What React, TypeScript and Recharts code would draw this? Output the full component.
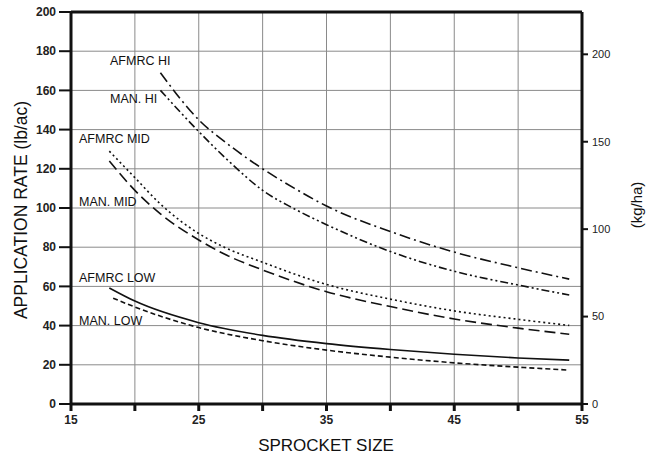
import React from "react";
import {
  LineChart,
  Line,
  XAxis,
  YAxis,
  CartesianGrid,
  ReferenceLine,
} from "recharts";

// sprocket sizes and rates (lb/ac)
const hiSizes = [22, 25, 27.5, 30, 32.5, 35, 40, 45, 50, 54];
const afmrcHi = [169, 145, 131.5, 120, 110, 101, 88, 77.5, 69.5, 63.7];
const manHi = [160, 139, 123, 109, 99.5, 91.5, 77.8, 67.7, 60.7, 55.6];

const midSizes = [18, 20, 22, 25, 27, 30, 35, 40, 45, 50, 54];
const afmrcMid = [129, 115.5, 102, 87, 80, 72.3, 61, 53.5, 47.5, 43.2, 40.1];
const manMid = [124, 109, 97, 83.7, 76.5, 68.4, 57.3, 49.7, 43.4, 38.7, 35.6];

const afmrcLowSizes = [18, 20, 25, 30, 35, 40, 45, 50, 54];
const afmrcLow = [59.2, 52.5, 41.5, 35, 30.8, 27.8, 25.4, 23.5, 22.4];
const manLowSizes = [18.3, 20, 25, 30, 35, 40, 45, 50, 54];
const manLow = [54, 49.5, 39, 32.3, 27.5, 23.9, 21, 18.8, 17.3];

const xTicks = [15, 20, 25, 30, 35, 40, 45, 50, 55];
const lbTicks = [0, 20, 40, 60, 80, 100, 120, 140, 160, 180, 200];
const kgTicks = [0, 50, 100, 150, 200];
const LB_TO_KG = 1.121;

const pts = (xs: number[], ys: number[]) => xs.map((x, i) => ({ x, v: ys[i] }));

const font = "'Liberation Sans', Arial, sans-serif";

const series = [
  { name: "AFMRC HI", data: pts(hiSizes, afmrcHi), dash: "11 4 2 4" },
  { name: "MAN. HI", data: pts(hiSizes, manHi), dash: "8 3 2 3 2 3" },
  { name: "AFMRC MID", data: pts(midSizes, afmrcMid), dash: "2 3" },
  { name: "MAN. MID", data: pts(midSizes, manMid), dash: "11 5" },
  { name: "AFMRC LOW", data: pts(afmrcLowSizes, afmrcLow), dash: undefined },
  { name: "MAN. LOW", data: pts(manLowSizes, manLow), dash: "5 3" },
];

// same curve in kg/ha, only to drive the right-hand axis
const kgShadow = pts(hiSizes, afmrcHi.map((v) => v * LB_TO_KG));

const labelPos = [
  { text: "AFMRC HI", x: 110, y: 61 },
  { text: "MAN. HI", x: 110, y: 99 },
  { text: "AFMRC MID", x: 79, y: 139 },
  { text: "MAN. MID", x: 79, y: 202 },
  { text: "AFMRC LOW", x: 79, y: 278 },
  { text: "MAN. LOW", x: 79, y: 321 },
];

export default function App() {
  return (
    <div style={{ position: "absolute", left: 0, top: 0, background: "#fff" }}>
      <LineChart
        width={657}
        height={457}
        margin={{ top: 12, right: 0, bottom: 0, left: 0 }}
        style={{ fontFamily: font }}
      >
        <CartesianGrid yAxisId="lb" stroke="#8a8a8a" strokeWidth={1} />
        <XAxis
          dataKey="x"
          type="number"
          domain={[15, 55]}
          ticks={xTicks}
          allowDuplicatedCategory={false}
          tickFormatter={(v: number) => ((v - 15) % 10 === 0 ? String(v) : "")}
          height={53}
          tickSize={7}
          tickMargin={4}
          axisLine={{ stroke: "#111", strokeWidth: 3 }}
          tickLine={{ stroke: "#111", strokeWidth: 3 }}
          tick={{ fill: "#222", fontSize: 12, fontWeight: 700, fontFamily: font }}
        />
        <YAxis
          yAxisId="lb"
          type="number"
          domain={[0, 200]}
          ticks={lbTicks}
          width={71}
          tickSize={12}
          tickMargin={3}
          axisLine={{ stroke: "#111", strokeWidth: 3 }}
          tickLine={{ stroke: "#111", strokeWidth: 2 }}
          tick={{ fill: "#222", fontSize: 12, fontWeight: 700, fontFamily: font }}
        />
        <YAxis
          yAxisId="kg"
          type="number"
          orientation="right"
          domain={[0, 200 * LB_TO_KG]}
          allowDataOverflow
          ticks={kgTicks}
          width={75}
          tickSize={6}
          tickMargin={4}
          axisLine={{ stroke: "#111", strokeWidth: 3 }}
          tickLine={{ stroke: "#111", strokeWidth: 2 }}
          tick={{ fill: "#222", fontSize: 11, fontFamily: font }}
        />
        <ReferenceLine yAxisId="lb" y={200} stroke="#111" strokeWidth={3} />
        <Line
          yAxisId="kg"
          data={kgShadow}
          dataKey="v"
          stroke="none"
          dot={false}
          activeDot={false}
          isAnimationActive={false}
        />
        {series.map((s) => (
          <Line
            key={s.name}
            yAxisId="lb"
            data={s.data}
            dataKey="v"
            type="monotone"
            stroke="#111"
            strokeWidth={1.6}
            strokeDasharray={s.dash}
            dot={false}
            activeDot={false}
            isAnimationActive={false}
          />
        ))}
        {labelPos.map((l) => (
          <text
            key={l.text}
            x={l.x}
            y={l.y}
            dominantBaseline="central"
            fontSize={12.5}
            fontFamily={font}
            fill="#111"
          >
            {l.text}
          </text>
        ))}
        <text x={326} y={445} textAnchor="middle" dominantBaseline="central" fontSize={17} fontFamily={font} fill="#111">
          SPROCKET SIZE
        </text>
        <text
          x={21}
          y={210}
          transform="rotate(-90 21 210)"
          textAnchor="middle"
          dominantBaseline="central"
          fontSize={17.5}
          fontFamily={font}
          fill="#111"
        >
          APPLICATION RATE (lb/ac)
        </text>
        <text
          x={636}
          y={205}
          transform="rotate(-90 636 205)"
          textAnchor="middle"
          dominantBaseline="central"
          fontSize={15}
          fontFamily={font}
          fill="#111"
        >
          (kg/ha)
        </text>
      </LineChart>
    </div>
  );
}
